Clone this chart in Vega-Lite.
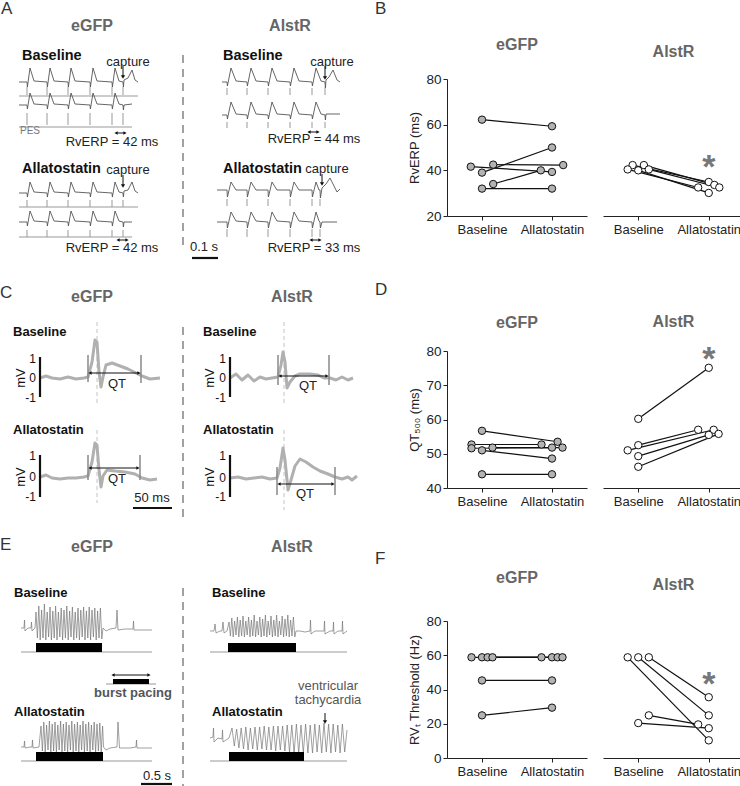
{
"$schema":"https://vega.github.io/schema/vega-lite/v6.json",
"padding":0,
"config":{"font":"Liberation Sans","view":{"stroke":null},"axis":{"labelFont":"Liberation Sans","titleFont":"Liberation Sans"}},
"datasets":{
"bE":[{"id":1,"x":1,"v":62.2},{"id":1,"x":2,"v":59.3},{"id":2,"x":0.84,"v":41.6},{"id":2,"x":2,"v":39.3},{"id":3,"x":1.16,"v":42.5},{"id":3,"x":2.16,"v":42.3},{"id":4,"x":1,"v":39},{"id":4,"x":2,"v":50},{"id":5,"x":1.16,"v":34},{"id":5,"x":1.84,"v":40},{"id":6,"x":1,"v":32},{"id":6,"x":2,"v":32}],
"bA":[{"id":7,"x":0.92,"v":42.3},{"id":7,"x":2,"v":34.9},{"id":8,"x":1.08,"v":42.3},{"id":8,"x":2.08,"v":33.6},{"id":9,"x":0.85,"v":40.4},{"id":9,"x":1.85,"v":32.5},{"id":10,"x":1,"v":40},{"id":10,"x":2,"v":30.1},{"id":11,"x":1.15,"v":40.4},{"id":11,"x":2.15,"v":32.5}],
"dE":[{"id":1,"x":1,"v":56.7},{"id":1,"x":2.08,"v":53.5},{"id":2,"x":0.85,"v":52.7},{"id":2,"x":1.85,"v":52.7},{"id":3,"x":0.85,"v":51.6},{"id":3,"x":2.15,"v":51.8},{"id":4,"x":1.15,"v":51.8},{"id":4,"x":2,"v":51.8},{"id":5,"x":1,"v":51},{"id":5,"x":2,"v":48.6},{"id":6,"x":1,"v":44},{"id":6,"x":2,"v":44}],
"dA":[{"id":7,"x":1,"v":60.2},{"id":7,"x":2,"v":75.1},{"id":8,"x":1,"v":52.5},{"id":8,"x":1.85,"v":57},{"id":9,"x":0.85,"v":51},{"id":9,"x":2.07,"v":57},{"id":10,"x":1,"v":49.3},{"id":10,"x":2,"v":55.5},{"id":11,"x":1,"v":46.2},{"id":11,"x":2.14,"v":55.8}],
"fE":[{"id":1,"x":0.85,"v":58.8},{"id":1,"x":1.85,"v":58.8},{"id":2,"x":1,"v":58.8},{"id":2,"x":2,"v":58.8},{"id":3,"x":1.08,"v":58.8},{"id":3,"x":2.08,"v":58.8},{"id":4,"x":1.15,"v":58.8},{"id":4,"x":2.15,"v":58.8},{"id":5,"x":1,"v":45.3},{"id":5,"x":2,"v":45.3},{"id":6,"x":1,"v":24.9},{"id":6,"x":2,"v":29.4}],
"fA":[{"id":7,"x":0.85,"v":58.8},{"id":7,"x":2,"v":10.3},{"id":8,"x":1,"v":58.8},{"id":8,"x":2,"v":24.9},{"id":9,"x":1.15,"v":58.8},{"id":9,"x":2,"v":35.5},{"id":10,"x":1.15,"v":24.9},{"id":10,"x":1.85,"v":19.6},{"id":11,"x":1,"v":20.4},{"id":11,"x":2,"v":17.4}],
"ta":[
{"id":"a1","x":19,"y":82},{"id":"a1","x":27,"y":82},{"id":"a1","x":27.4,"y":87},{"id":"a1","x":30,"y":68},{"id":"a1","x":34,"y":81},{"id":"a1","x":47,"y":82},{"id":"a1","x":47.4,"y":87},{"id":"a1","x":50,"y":68},{"id":"a1","x":54,"y":81},{"id":"a1","x":68,"y":82},{"id":"a1","x":68.4,"y":87},{"id":"a1","x":71,"y":68},{"id":"a1","x":75,"y":81},{"id":"a1","x":90,"y":82},{"id":"a1","x":90.4,"y":87},{"id":"a1","x":93,"y":68},{"id":"a1","x":97,"y":81},{"id":"a1","x":112,"y":82},{"id":"a1","x":112.4,"y":87},{"id":"a1","x":115,"y":68},{"id":"a1","x":119,"y":81},{"id":"a1","x":123,"y":82},{"id":"a1","x":123.4,"y":87},{"id":"a1","x":124,"y":80},{"id":"a1","x":128,"y":78},{"id":"a1","x":132,"y":70},{"id":"a1","x":135,"y":80},{"id":"a1","x":138,"y":82},
{"id":"a2","x":19,"y":105},{"id":"a2","x":27,"y":105},{"id":"a2","x":27.4,"y":109},{"id":"a2","x":30,"y":93},{"id":"a2","x":34,"y":104},{"id":"a2","x":47,"y":105},{"id":"a2","x":47.4,"y":109},{"id":"a2","x":50,"y":93},{"id":"a2","x":54,"y":104},{"id":"a2","x":68,"y":105},{"id":"a2","x":68.4,"y":109},{"id":"a2","x":71,"y":93},{"id":"a2","x":75,"y":104},{"id":"a2","x":90,"y":105},{"id":"a2","x":90.4,"y":109},{"id":"a2","x":93,"y":93},{"id":"a2","x":97,"y":104},{"id":"a2","x":112,"y":105},{"id":"a2","x":112.4,"y":109},{"id":"a2","x":115,"y":93},{"id":"a2","x":119,"y":104},{"id":"a2","x":123,"y":105},{"id":"a2","x":123.4,"y":110},{"id":"a2","x":124,"y":105},{"id":"a2","x":132,"y":104},
{"id":"a3","x":19,"y":193},{"id":"a3","x":27,"y":193},{"id":"a3","x":27.4,"y":197},{"id":"a3","x":30,"y":182},{"id":"a3","x":34,"y":192},{"id":"a3","x":47,"y":193},{"id":"a3","x":47.4,"y":197},{"id":"a3","x":50,"y":182},{"id":"a3","x":54,"y":192},{"id":"a3","x":68,"y":193},{"id":"a3","x":68.4,"y":197},{"id":"a3","x":71,"y":182},{"id":"a3","x":75,"y":192},{"id":"a3","x":90,"y":193},{"id":"a3","x":90.4,"y":197},{"id":"a3","x":93,"y":182},{"id":"a3","x":97,"y":192},{"id":"a3","x":112,"y":193},{"id":"a3","x":112.4,"y":197},{"id":"a3","x":115,"y":182},{"id":"a3","x":119,"y":192},{"id":"a3","x":123,"y":193},{"id":"a3","x":123.4,"y":197},{"id":"a3","x":124,"y":191},{"id":"a3","x":128,"y":190},{"id":"a3","x":132,"y":182},{"id":"a3","x":135,"y":191},{"id":"a3","x":138,"y":193},
{"id":"a4","x":19,"y":222},{"id":"a4","x":27,"y":222},{"id":"a4","x":27.4,"y":226},{"id":"a4","x":30,"y":211},{"id":"a4","x":34,"y":221},{"id":"a4","x":47,"y":222},{"id":"a4","x":47.4,"y":226},{"id":"a4","x":50,"y":211},{"id":"a4","x":54,"y":221},{"id":"a4","x":68,"y":222},{"id":"a4","x":68.4,"y":226},{"id":"a4","x":71,"y":211},{"id":"a4","x":75,"y":221},{"id":"a4","x":90,"y":222},{"id":"a4","x":90.4,"y":226},{"id":"a4","x":93,"y":211},{"id":"a4","x":97,"y":221},{"id":"a4","x":112,"y":222},{"id":"a4","x":112.4,"y":226},{"id":"a4","x":115,"y":211},{"id":"a4","x":119,"y":221},{"id":"a4","x":123,"y":222},{"id":"a4","x":123.4,"y":227},{"id":"a4","x":124,"y":222},{"id":"a4","x":132,"y":222},
{"id":"a5","x":222,"y":82},{"id":"a5","x":227,"y":82},{"id":"a5","x":227.4,"y":86},{"id":"a5","x":231,"y":68},{"id":"a5","x":236,"y":81},{"id":"a5","x":247,"y":82},{"id":"a5","x":247.4,"y":86},{"id":"a5","x":251,"y":68},{"id":"a5","x":256,"y":81},{"id":"a5","x":268,"y":82},{"id":"a5","x":268.4,"y":86},{"id":"a5","x":272,"y":68},{"id":"a5","x":277,"y":81},{"id":"a5","x":290,"y":82},{"id":"a5","x":290.4,"y":86},{"id":"a5","x":294,"y":68},{"id":"a5","x":299,"y":81},{"id":"a5","x":312,"y":82},{"id":"a5","x":312.4,"y":86},{"id":"a5","x":316,"y":68},{"id":"a5","x":321,"y":81},{"id":"a5","x":325,"y":82},{"id":"a5","x":325.4,"y":88},{"id":"a5","x":326,"y":80},{"id":"a5","x":329,"y":77},{"id":"a5","x":333,"y":70},{"id":"a5","x":337,"y":80},{"id":"a5","x":340,"y":82},
{"id":"a6","x":222,"y":115},{"id":"a6","x":227,"y":115},{"id":"a6","x":227.4,"y":119},{"id":"a6","x":231,"y":102},{"id":"a6","x":236,"y":114},{"id":"a6","x":247,"y":115},{"id":"a6","x":247.4,"y":119},{"id":"a6","x":251,"y":102},{"id":"a6","x":256,"y":114},{"id":"a6","x":268,"y":115},{"id":"a6","x":268.4,"y":119},{"id":"a6","x":272,"y":102},{"id":"a6","x":277,"y":114},{"id":"a6","x":290,"y":115},{"id":"a6","x":290.4,"y":119},{"id":"a6","x":294,"y":102},{"id":"a6","x":299,"y":114},{"id":"a6","x":312,"y":115},{"id":"a6","x":312.4,"y":119},{"id":"a6","x":316,"y":102},{"id":"a6","x":321,"y":114},{"id":"a6","x":325,"y":115},{"id":"a6","x":325.4,"y":120},{"id":"a6","x":326,"y":114},{"id":"a6","x":340,"y":114},
{"id":"a7","x":217,"y":190},{"id":"a7","x":227,"y":190},{"id":"a7","x":227.4,"y":197},{"id":"a7","x":231,"y":182},{"id":"a7","x":236,"y":190},{"id":"a7","x":247,"y":190},{"id":"a7","x":247.4,"y":197},{"id":"a7","x":251,"y":182},{"id":"a7","x":256,"y":190},{"id":"a7","x":268,"y":190},{"id":"a7","x":268.4,"y":197},{"id":"a7","x":272,"y":182},{"id":"a7","x":277,"y":190},{"id":"a7","x":290,"y":190},{"id":"a7","x":290.4,"y":197},{"id":"a7","x":294,"y":182},{"id":"a7","x":299,"y":190},{"id":"a7","x":312,"y":190},{"id":"a7","x":312.4,"y":197},{"id":"a7","x":316,"y":182},{"id":"a7","x":319,"y":190},{"id":"a7","x":320,"y":190},{"id":"a7","x":320.4,"y":198},{"id":"a7","x":322,"y":188},{"id":"a7","x":326,"y":184},{"id":"a7","x":330,"y":178},{"id":"a7","x":334,"y":186},{"id":"a7","x":337,"y":192},{"id":"a7","x":340,"y":189},
{"id":"a8","x":217,"y":222},{"id":"a8","x":227,"y":222},{"id":"a8","x":227.4,"y":228},{"id":"a8","x":231,"y":212},{"id":"a8","x":236,"y":221},{"id":"a8","x":247,"y":222},{"id":"a8","x":247.4,"y":228},{"id":"a8","x":251,"y":212},{"id":"a8","x":256,"y":221},{"id":"a8","x":268,"y":222},{"id":"a8","x":268.4,"y":228},{"id":"a8","x":272,"y":212},{"id":"a8","x":277,"y":221},{"id":"a8","x":290,"y":222},{"id":"a8","x":290.4,"y":228},{"id":"a8","x":294,"y":212},{"id":"a8","x":299,"y":221},{"id":"a8","x":312,"y":222},{"id":"a8","x":312.4,"y":228},{"id":"a8","x":316,"y":212},{"id":"a8","x":319,"y":221},{"id":"a8","x":320,"y":222},{"id":"a8","x":320.4,"y":228},{"id":"a8","x":322,"y":222},{"id":"a8","x":337,"y":222}
],
"tc":[
{"id":"c1","x":40,"y":378},{"id":"c1","x":46,"y":376},{"id":"c1","x":52,"y":378},{"id":"c1","x":60,"y":379},{"id":"c1","x":68,"y":377},{"id":"c1","x":76,"y":379},{"id":"c1","x":84,"y":378},{"id":"c1","x":88,"y":377},{"id":"c1","x":92,"y":362},{"id":"c1","x":95,"y":340},{"id":"c1","x":97,"y":342},{"id":"c1","x":99,"y":372},{"id":"c1","x":101,"y":387},{"id":"c1","x":103,"y":377},{"id":"c1","x":106,"y":365},{"id":"c1","x":112,"y":363},{"id":"c1","x":120,"y":366},{"id":"c1","x":128,"y":369},{"id":"c1","x":136,"y":373},{"id":"c1","x":142,"y":376},{"id":"c1","x":150,"y":379},{"id":"c1","x":160,"y":378},
{"id":"c2","x":40,"y":477},{"id":"c2","x":46,"y":475},{"id":"c2","x":52,"y":478},{"id":"c2","x":60,"y":479},{"id":"c2","x":68,"y":478},{"id":"c2","x":76,"y":478},{"id":"c2","x":84,"y":477},{"id":"c2","x":88,"y":476},{"id":"c2","x":92,"y":462},{"id":"c2","x":95,"y":443},{"id":"c2","x":97,"y":445},{"id":"c2","x":99,"y":470},{"id":"c2","x":101,"y":487},{"id":"c2","x":103,"y":476},{"id":"c2","x":107,"y":470},{"id":"c2","x":115,"y":471},{"id":"c2","x":125,"y":472},{"id":"c2","x":135,"y":474},{"id":"c2","x":142,"y":478},{"id":"c2","x":150,"y":480},{"id":"c2","x":157,"y":479},
{"id":"c3","x":230,"y":378},{"id":"c3","x":236,"y":374},{"id":"c3","x":242,"y":380},{"id":"c3","x":248,"y":375},{"id":"c3","x":254,"y":381},{"id":"c3","x":260,"y":377},{"id":"c3","x":266,"y":379},{"id":"c3","x":272,"y":378},{"id":"c3","x":278,"y":377},{"id":"c3","x":281,"y":365},{"id":"c3","x":283,"y":352},{"id":"c3","x":285,"y":362},{"id":"c3","x":287,"y":388},{"id":"c3","x":290,"y":382},{"id":"c3","x":295,"y":376},{"id":"c3","x":300,"y":374},{"id":"c3","x":310,"y":374},{"id":"c3","x":318,"y":375},{"id":"c3","x":324,"y":378},{"id":"c3","x":330,"y":378},{"id":"c3","x":336,"y":380},{"id":"c3","x":342,"y":377},{"id":"c3","x":348,"y":380},{"id":"c3","x":353,"y":378},
{"id":"c4","x":230,"y":478},{"id":"c4","x":238,"y":477},{"id":"c4","x":246,"y":479},{"id":"c4","x":254,"y":478},{"id":"c4","x":262,"y":477},{"id":"c4","x":270,"y":479},{"id":"c4","x":277,"y":478},{"id":"c4","x":280,"y":468},{"id":"c4","x":283,"y":448},{"id":"c4","x":285,"y":460},{"id":"c4","x":288,"y":490},{"id":"c4","x":291,"y":480},{"id":"c4","x":295,"y":466},{"id":"c4","x":300,"y":459},{"id":"c4","x":306,"y":462},{"id":"c4","x":313,"y":467},{"id":"c4","x":320,"y":471},{"id":"c4","x":328,"y":474},{"id":"c4","x":335,"y":477},{"id":"c4","x":342,"y":479},{"id":"c4","x":348,"y":477},{"id":"c4","x":352,"y":480},{"id":"c4","x":357,"y":476}
],
"te":[
{"id":"e1","x":21,"y":628},{"id":"e1","x":24,"y":628},{"id":"e1","x":24.5,"y":620},{"id":"e1","x":25,"y":631},{"id":"e1","x":28,"y":628},{"id":"e1","x":31,"y":628},{"id":"e1","x":31.5,"y":622},{"id":"e1","x":32,"y":631},{"id":"e1","x":35,"y":628},
{"id":"e1","x":36,"y":612},{"id":"e1","x":37.4,"y":638},{"id":"e1","x":38.8,"y":606},{"id":"e1","x":40.2,"y":640},{"id":"e1","x":41.6,"y":610},{"id":"e1","x":43,"y":638},{"id":"e1","x":44.4,"y":604},{"id":"e1","x":45.8,"y":640},{"id":"e1","x":47.2,"y":612},{"id":"e1","x":48.6,"y":637},{"id":"e1","x":50,"y":607},{"id":"e1","x":51.4,"y":640},{"id":"e1","x":52.8,"y":611},{"id":"e1","x":54.2,"y":638},{"id":"e1","x":55.6,"y":606},{"id":"e1","x":57,"y":640},{"id":"e1","x":58.4,"y":612},{"id":"e1","x":59.8,"y":637},{"id":"e1","x":61.2,"y":608},{"id":"e1","x":62.6,"y":640},{"id":"e1","x":64,"y":610},{"id":"e1","x":65.4,"y":638},{"id":"e1","x":66.8,"y":606},{"id":"e1","x":68.2,"y":640},{"id":"e1","x":69.6,"y":611},{"id":"e1","x":71,"y":637},{"id":"e1","x":72.4,"y":607},{"id":"e1","x":73.8,"y":640},{"id":"e1","x":75.2,"y":612},{"id":"e1","x":76.6,"y":638},{"id":"e1","x":78,"y":608},{"id":"e1","x":79.4,"y":640},{"id":"e1","x":80.8,"y":610},{"id":"e1","x":82.2,"y":637},{"id":"e1","x":83.6,"y":607},{"id":"e1","x":85,"y":640},{"id":"e1","x":86.4,"y":611},{"id":"e1","x":87.8,"y":638},{"id":"e1","x":89.2,"y":607},{"id":"e1","x":90.6,"y":640},{"id":"e1","x":92,"y":610},{"id":"e1","x":93.4,"y":637},{"id":"e1","x":94.8,"y":608},{"id":"e1","x":96.2,"y":640},{"id":"e1","x":97.6,"y":611},{"id":"e1","x":99,"y":638},{"id":"e1","x":100.4,"y":608},{"id":"e1","x":101.8,"y":639},
{"id":"e1","x":103,"y":628},{"id":"e1","x":106,"y":631},{"id":"e1","x":110,"y":629},{"id":"e1","x":116,"y":628},{"id":"e1","x":117,"y":610},{"id":"e1","x":118,"y":630},{"id":"e1","x":125,"y":629},{"id":"e1","x":133,"y":629},{"id":"e1","x":133.5,"y":621},{"id":"e1","x":134,"y":630},{"id":"e1","x":152,"y":630},
{"id":"e2","x":21,"y":747},{"id":"e2","x":24,"y":747},{"id":"e2","x":24.5,"y":741},{"id":"e2","x":25,"y":748},{"id":"e2","x":30,"y":747},{"id":"e2","x":32,"y":747},{"id":"e2","x":32.5,"y":740},{"id":"e2","x":33,"y":748},{"id":"e2","x":39,"y":747},
{"id":"e2","x":41,"y":726},{"id":"e2","x":42.4,"y":751},{"id":"e2","x":43.8,"y":722},{"id":"e2","x":45.2,"y":752},{"id":"e2","x":46.6,"y":725},{"id":"e2","x":48,"y":750},{"id":"e2","x":49.4,"y":721},{"id":"e2","x":50.8,"y":752},{"id":"e2","x":52.2,"y":724},{"id":"e2","x":53.6,"y":751},{"id":"e2","x":55,"y":722},{"id":"e2","x":56.4,"y":752},{"id":"e2","x":57.8,"y":725},{"id":"e2","x":59.2,"y":750},{"id":"e2","x":60.6,"y":721},{"id":"e2","x":62,"y":752},{"id":"e2","x":63.4,"y":724},{"id":"e2","x":64.8,"y":751},{"id":"e2","x":66.2,"y":722},{"id":"e2","x":67.6,"y":752},{"id":"e2","x":69,"y":725},{"id":"e2","x":70.4,"y":750},{"id":"e2","x":71.8,"y":721},{"id":"e2","x":73.2,"y":752},{"id":"e2","x":74.6,"y":724},{"id":"e2","x":76,"y":751},{"id":"e2","x":77.4,"y":722},{"id":"e2","x":78.8,"y":752},{"id":"e2","x":80.2,"y":725},{"id":"e2","x":81.6,"y":750},{"id":"e2","x":83,"y":721},{"id":"e2","x":84.4,"y":752},{"id":"e2","x":85.8,"y":724},{"id":"e2","x":87.2,"y":751},{"id":"e2","x":88.6,"y":722},{"id":"e2","x":90,"y":752},{"id":"e2","x":91.4,"y":725},{"id":"e2","x":92.8,"y":750},{"id":"e2","x":94.2,"y":722},{"id":"e2","x":95.6,"y":752},{"id":"e2","x":97,"y":724},{"id":"e2","x":98.4,"y":751},{"id":"e2","x":99.8,"y":723},{"id":"e2","x":101.2,"y":752},{"id":"e2","x":102.6,"y":726},
{"id":"e2","x":103.5,"y":747},{"id":"e2","x":106,"y":750},{"id":"e2","x":110,"y":748},{"id":"e2","x":117,"y":747},{"id":"e2","x":118,"y":722},{"id":"e2","x":119.5,"y":748},{"id":"e2","x":130,"y":748},{"id":"e2","x":136,"y":747},{"id":"e2","x":136.5,"y":740},{"id":"e2","x":137,"y":748},{"id":"e2","x":152,"y":748},
{"id":"e3","x":210,"y":631},{"id":"e3","x":214,"y":631},{"id":"e3","x":215,"y":624},{"id":"e3","x":216,"y":633},{"id":"e3","x":220,"y":631},{"id":"e3","x":222,"y":631},{"id":"e3","x":223,"y":622},{"id":"e3","x":224,"y":633},{"id":"e3","x":227,"y":631},
{"id":"e3","x":229,"y":622},{"id":"e3","x":230.4,"y":636},{"id":"e3","x":231.8,"y":618},{"id":"e3","x":233.2,"y":637},{"id":"e3","x":234.6,"y":621},{"id":"e3","x":236,"y":635},{"id":"e3","x":237.4,"y":617},{"id":"e3","x":238.8,"y":637},{"id":"e3","x":240.2,"y":620},{"id":"e3","x":241.6,"y":636},{"id":"e3","x":243,"y":616},{"id":"e3","x":244.4,"y":637},{"id":"e3","x":245.8,"y":621},{"id":"e3","x":247.2,"y":635},{"id":"e3","x":248.6,"y":617},{"id":"e3","x":250,"y":637},{"id":"e3","x":251.4,"y":620},{"id":"e3","x":252.8,"y":636},{"id":"e3","x":254.2,"y":615},{"id":"e3","x":255.6,"y":637},{"id":"e3","x":257,"y":621},{"id":"e3","x":258.4,"y":635},{"id":"e3","x":259.8,"y":617},{"id":"e3","x":261.2,"y":637},{"id":"e3","x":262.6,"y":619},{"id":"e3","x":264,"y":636},{"id":"e3","x":265.4,"y":615},{"id":"e3","x":266.8,"y":637},{"id":"e3","x":268.2,"y":621},{"id":"e3","x":269.6,"y":635},{"id":"e3","x":271,"y":616},{"id":"e3","x":272.4,"y":637},{"id":"e3","x":273.8,"y":620},{"id":"e3","x":275.2,"y":636},{"id":"e3","x":276.6,"y":615},{"id":"e3","x":278,"y":637},{"id":"e3","x":279.4,"y":621},{"id":"e3","x":280.8,"y":635},{"id":"e3","x":282.2,"y":616},{"id":"e3","x":283.6,"y":637},{"id":"e3","x":285,"y":619},{"id":"e3","x":286.4,"y":636},{"id":"e3","x":287.8,"y":615},{"id":"e3","x":289.2,"y":637},{"id":"e3","x":290.6,"y":620},{"id":"e3","x":292,"y":636},{"id":"e3","x":293.4,"y":617},{"id":"e3","x":294.8,"y":637},
{"id":"e3","x":296,"y":631},{"id":"e3","x":300,"y":631},{"id":"e3","x":305,"y":632},{"id":"e3","x":310,"y":631},{"id":"e3","x":310.5,"y":620},{"id":"e3","x":311,"y":634},{"id":"e3","x":315,"y":631},{"id":"e3","x":324,"y":631},{"id":"e3","x":324.5,"y":621},{"id":"e3","x":325,"y":634},{"id":"e3","x":330,"y":631},{"id":"e3","x":333,"y":631},{"id":"e3","x":333.5,"y":622},{"id":"e3","x":334,"y":634},{"id":"e3","x":338,"y":631},{"id":"e3","x":342,"y":631},{"id":"e3","x":342.5,"y":621},{"id":"e3","x":343,"y":634},{"id":"e3","x":347,"y":631},
{"id":"e4","x":210,"y":738},{"id":"e4","x":213,"y":737},{"id":"e4","x":213.5,"y":728},{"id":"e4","x":214,"y":742},{"id":"e4","x":218,"y":738},{"id":"e4","x":222,"y":739},{"id":"e4","x":222.5,"y":730},{"id":"e4","x":223,"y":742},{"id":"e4","x":229,"y":738},
{"id":"e4","x":232,"y":728},{"id":"e4","x":234.3,"y":746},{"id":"e4","x":236.6,"y":729},{"id":"e4","x":238.9,"y":748},{"id":"e4","x":241.2,"y":728},{"id":"e4","x":243.5,"y":749},{"id":"e4","x":245.8,"y":727},{"id":"e4","x":248.1,"y":750},{"id":"e4","x":250.4,"y":728},{"id":"e4","x":252.7,"y":749},{"id":"e4","x":255,"y":727},{"id":"e4","x":257.3,"y":750},{"id":"e4","x":259.6,"y":727},{"id":"e4","x":261.9,"y":749},{"id":"e4","x":264.2,"y":726},{"id":"e4","x":266.5,"y":750},{"id":"e4","x":268.8,"y":727},{"id":"e4","x":271.1,"y":750},{"id":"e4","x":273.4,"y":726},{"id":"e4","x":275.7,"y":751},{"id":"e4","x":278,"y":726},{"id":"e4","x":280.3,"y":750},{"id":"e4","x":282.6,"y":726},{"id":"e4","x":284.9,"y":751},{"id":"e4","x":287.2,"y":725},{"id":"e4","x":289.5,"y":752},{"id":"e4","x":291.8,"y":725},{"id":"e4","x":294.1,"y":753},{"id":"e4","x":296.4,"y":724},{"id":"e4","x":298.7,"y":753},{"id":"e4","x":301,"y":725},{"id":"e4","x":303.3,"y":753},{"id":"e4","x":305.6,"y":724},{"id":"e4","x":307.9,"y":753},{"id":"e4","x":310.2,"y":725},{"id":"e4","x":312.5,"y":753},{"id":"e4","x":314.8,"y":724},{"id":"e4","x":317.1,"y":752},{"id":"e4","x":319.4,"y":725},{"id":"e4","x":321.7,"y":753},{"id":"e4","x":324,"y":723},{"id":"e4","x":326.3,"y":752},{"id":"e4","x":328.6,"y":724},{"id":"e4","x":330.9,"y":753},{"id":"e4","x":333.2,"y":724},{"id":"e4","x":335.5,"y":752},{"id":"e4","x":337.8,"y":725},{"id":"e4","x":340.1,"y":753},{"id":"e4","x":342.4,"y":724},{"id":"e4","x":344.7,"y":752},{"id":"e4","x":347,"y":730}
],
"tk":[
{"x":27,"y":87,"y2":95},{"x":47,"y":87,"y2":95},{"x":68,"y":87,"y2":95},{"x":90,"y":87,"y2":95},{"x":112,"y":87,"y2":95},{"x":123,"y":87,"y2":95},
{"x":27,"y":113,"y2":125},{"x":47,"y":113,"y2":125},{"x":68,"y":113,"y2":125},{"x":90,"y":113,"y2":125},{"x":112,"y":113,"y2":125},{"x":123,"y":113,"y2":125},
{"x":27,"y":200,"y2":207},{"x":47,"y":200,"y2":207},{"x":68,"y":200,"y2":207},{"x":90,"y":200,"y2":207},{"x":112,"y":200,"y2":207},{"x":123,"y":200,"y2":207},
{"x":27,"y":230,"y2":237},{"x":47,"y":230,"y2":237},{"x":68,"y":230,"y2":237},{"x":90,"y":230,"y2":237},{"x":112,"y":230,"y2":237},{"x":123,"y":230,"y2":237},
{"x":227,"y":88,"y2":95},{"x":247,"y":88,"y2":95},{"x":268,"y":88,"y2":95},{"x":290,"y":88,"y2":95},{"x":312,"y":88,"y2":95},{"x":325,"y":88,"y2":95},
{"x":227,"y":122,"y2":128},{"x":247,"y":122,"y2":128},{"x":268,"y":122,"y2":128},{"x":290,"y":122,"y2":128},{"x":312,"y":122,"y2":128},{"x":325,"y":122,"y2":128},
{"x":227,"y":199,"y2":206},{"x":247,"y":199,"y2":206},{"x":268,"y":199,"y2":206},{"x":290,"y":199,"y2":206},{"x":312,"y":199,"y2":206},{"x":320,"y":199,"y2":206},
{"x":227,"y":229,"y2":237},{"x":247,"y":229,"y2":237},{"x":268,"y":229,"y2":237},{"x":290,"y":229,"y2":237},{"x":312,"y":229,"y2":237},{"x":320,"y":229,"y2":237}
],
"hl":[{"x":19,"x2":138,"y":96},{"x":19,"x2":132,"y":127},{"x":19,"x2":138,"y":207},{"x":19,"x2":132,"y":237},{"x":21,"x2":152,"y":652},{"x":21,"x2":152,"y":761},{"x":210,"x2":347,"y":652},{"x":210,"x2":347,"y":761},{"x":106,"x2":156,"y":684}],
"blk":[{"x":40,"y":357,"x2":40,"y2":397},{"x":40,"y":455,"x2":40,"y2":497},{"x":230,"y":357,"x2":230,"y2":397},{"x":230,"y":455,"x2":230,"y2":497},{"x":192,"y":258,"x2":218,"y2":258},{"x":133,"y":508,"x2":172,"y2":508},{"x":141,"y":784,"x2":172,"y2":784}],
"qtm":[{"x":88,"y":355,"y2":382},{"x":141,"y":355,"y2":383},{"x":88,"y":455,"y2":480},{"x":140,"y":455,"y2":480},{"x":278,"y":355,"y2":385},{"x":329,"y":355,"y2":385},{"x":277,"y":467,"y2":495},{"x":335,"y":467,"y2":495}],
"dl":[{"x":97,"y":322,"y2":403},{"x":97,"y":430,"y2":503},{"x":284,"y":322,"y2":403},{"x":284,"y":430,"y2":510}],
"dv":[{"x":183,"y":55,"y2":247},{"x":183,"y":327,"y2":520},{"x":183,"y":588,"y2":786}],
"arr":[{"x":90,"x2":139,"y":373},{"x":90,"x2":138,"y":468},{"x":280,"x2":327,"y":376},{"x":279,"x2":333,"y":484},{"x":113,"x2":149,"y":675},{"x":116,"x2":125,"y":133},{"x":118,"x2":127,"y":240},{"x":309,"x2":318,"y":132},{"x":311,"x2":320,"y":240}],
"dn":[{"x":123,"y":66,"y2":77},{"x":123,"y":175,"y2":186},{"x":325,"y":66,"y2":78},{"x":322,"y":174,"y2":184},{"x":325,"y":713,"y2":722}],
"bar":[{"x":36,"x2":102,"y":643,"y2":652},{"x":36,"x2":103,"y":752,"y2":761},{"x":228,"x2":296,"y":643,"y2":652},{"x":229,"x2":304,"y":752,"y2":761},{"x":113,"x2":149,"y":679,"y2":684}],
"let":[{"t":"A","x":1,"y":9},{"t":"C","x":0,"y":293},{"t":"E","x":0,"y":545}],
"ttl":[{"t":"eGFP","x":92,"y":26},{"t":"AlstR","x":290,"y":26},{"t":"eGFP","x":92,"y":297},{"t":"AlstR","x":292,"y":297},{"t":"eGFP","x":92,"y":547},{"t":"AlstR","x":292,"y":547}],
"cndA":[{"t":"Baseline","x":22,"y":56},{"t":"Allatostatin","x":22,"y":169},{"t":"Baseline","x":223,"y":56},{"t":"Allatostatin","x":223,"y":169}],
"cndB":[{"t":"Baseline","x":13,"y":332},{"t":"Allatostatin","x":13,"y":430},{"t":"Baseline","x":203,"y":332},{"t":"Allatostatin","x":203,"y":430},{"t":"Baseline","x":14,"y":593},{"t":"Allatostatin","x":14,"y":712},{"t":"Baseline","x":212,"y":593},{"t":"Allatostatin","x":212,"y":712}],
"note":[{"t":"capture","x":128,"y":62},{"t":"capture","x":128,"y":170},{"t":"capture","x":332,"y":62},{"t":"capture","x":327,"y":169},{"t":"QT","x":117,"y":384},{"t":"QT","x":117,"y":479},{"t":"QT","x":308,"y":386},{"t":"QT","x":305,"y":494},{"t":"50 ms","x":152,"y":498},{"t":"0.1 s","x":204,"y":247},{"t":"0.5 s","x":157,"y":776},{"t":"RvERP = 42 ms","x":112,"y":142},{"t":"RvERP = 42 ms","x":112,"y":248},{"t":"RvERP = 44 ms","x":314,"y":139},{"t":"RvERP = 33 ms","x":314,"y":248}],
"noteg":[{"t":"ventricular","x":328,"y":686},{"t":"tachycardia","x":328,"y":700}],
"bp":[{"t":"burst pacing","x":133,"y":693}],
"pes":[{"t":"PES","x":20,"y":131}],
"mvn":[{"t":"1","x":36,"y":359},{"t":"0","x":36,"y":378},{"t":"-1","x":36,"y":398},{"t":"1","x":36,"y":456},{"t":"0","x":36,"y":477},{"t":"-1","x":36,"y":497},{"t":"1","x":226,"y":359},{"t":"0","x":226,"y":378},{"t":"-1","x":226,"y":398},{"t":"1","x":226,"y":456},{"t":"0","x":226,"y":478},{"t":"-1","x":226,"y":497}],
"mvl":[{"t":"mV","x":21,"y":378},{"t":"mV","x":21,"y":477},{"t":"mV","x":210,"y":378},{"t":"mV","x":210,"y":477}],
"starB":[{"x":2,"v":44,"s":"*"}],
"starD":[{"x":2,"v":79.5,"s":"*"}],
"starF":[{"x":2,"v":47,"s":"*"}]
},
"spacing":6,
"hconcat":[
{
"width":368,"height":707,
"encoding":{
"x":{"field":"x","type":"quantitative","scale":{"domain":[0,368],"nice":false,"zero":false},"axis":null},
"y":{"field":"y","type":"quantitative","scale":{"domain":[79,786],"nice":false,"zero":false,"reverse":true},"axis":null}
},
"layer":[
{"data":{"name":"hl"},"mark":{"type":"rule","color":"#999","strokeWidth":1},"encoding":{"x2":{"field":"x2"}}},
{"data":{"name":"tk"},"mark":{"type":"rule","color":"#999","strokeWidth":1},"encoding":{"y2":{"field":"y2"}}},
{"data":{"name":"dl"},"mark":{"type":"rule","color":"#c4c4c4","strokeWidth":1,"strokeDash":[4,3]},"encoding":{"y2":{"field":"y2"}}},
{"data":{"name":"dv"},"mark":{"type":"rule","color":"#444","strokeWidth":1,"strokeDash":[8,6]},"encoding":{"y2":{"field":"y2"}}},
{"data":{"name":"ta"},"mark":{"type":"line","color":"#555","strokeWidth":0.9},"encoding":{"detail":{"field":"id"}}},
{"data":{"name":"tc"},"mark":{"type":"line","color":"#b0b0b0","strokeWidth":3,"strokeJoin":"round"},"encoding":{"detail":{"field":"id"}}},
{"data":{"name":"te"},"mark":{"type":"line","color":"#777","strokeWidth":0.7},"encoding":{"detail":{"field":"id"}}},
{"data":{"name":"qtm"},"mark":{"type":"rule","color":"#888","strokeWidth":1.5},"encoding":{"y2":{"field":"y2"}}},
{"data":{"name":"blk"},"mark":{"type":"rule","color":"#111","strokeWidth":2.2},"encoding":{"x2":{"field":"x2"},"y2":{"field":"y2"}}},
{"data":{"name":"bar"},"mark":{"type":"rect","color":"#000"},"encoding":{"x2":{"field":"x2"},"y2":{"field":"y2"}}},
{"data":{"name":"arr"},"mark":{"type":"rule","color":"#111","strokeWidth":1},"encoding":{"x2":{"field":"x2"}}},
{"data":{"name":"arr"},"mark":{"type":"point","shape":"triangle-left","filled":true,"color":"#111","size":14,"opacity":1}},
{"data":{"name":"arr"},"mark":{"type":"point","shape":"triangle-right","filled":true,"color":"#111","size":14,"opacity":1},"encoding":{"x":{"field":"x2","type":"quantitative"}}},
{"data":{"name":"dn"},"mark":{"type":"rule","color":"#111","strokeWidth":1},"encoding":{"y2":{"field":"y2"}}},
{"data":{"name":"dn"},"mark":{"type":"point","shape":"triangle-down","filled":true,"color":"#111","size":18,"opacity":1},"encoding":{"y":{"field":"y2","type":"quantitative"}}},
{"data":{"name":"let"},"mark":{"type":"text","align":"left","baseline":"middle","fontSize":17,"color":"#333"},"encoding":{"text":{"field":"t"}}},
{"data":{"name":"ttl"},"mark":{"type":"text","align":"center","baseline":"middle","fontSize":16,"fontWeight":"bold","color":"#666"},"encoding":{"text":{"field":"t"}}},
{"data":{"name":"cndA"},"mark":{"type":"text","align":"left","baseline":"middle","fontSize":14.5,"fontWeight":"bold","color":"#111"},"encoding":{"text":{"field":"t"}}},
{"data":{"name":"cndB"},"mark":{"type":"text","align":"left","baseline":"middle","fontSize":13,"fontWeight":"bold","color":"#111"},"encoding":{"text":{"field":"t"}}},
{"data":{"name":"note"},"mark":{"type":"text","align":"center","baseline":"middle","fontSize":13,"color":"#222"},"encoding":{"text":{"field":"t"}}},
{"data":{"name":"noteg"},"mark":{"type":"text","align":"center","baseline":"middle","fontSize":13,"color":"#555"},"encoding":{"text":{"field":"t"}}},
{"data":{"name":"bp"},"mark":{"type":"text","align":"center","baseline":"middle","fontSize":13,"fontWeight":"bold","color":"#555"},"encoding":{"text":{"field":"t"}}},
{"data":{"name":"pes"},"mark":{"type":"text","align":"left","baseline":"middle","fontSize":10,"color":"#777"},"encoding":{"text":{"field":"t"}}},
{"data":{"name":"mvn"},"mark":{"type":"text","align":"right","baseline":"middle","fontSize":12,"color":"#111"},"encoding":{"text":{"field":"t"}}},
{"data":{"name":"mvl"},"mark":{"type":"text","align":"center","baseline":"middle","fontSize":13,"angle":270,"color":"#111"},"encoding":{"text":{"field":"t"}}}
]
},
{
"spacing":44,
"vconcat":[
{
"title":{"text":"B","anchor":"start","fontSize":17,"fontWeight":"normal","color":"#333","offset":19,"dx":-34},
"spacing":16,
"hconcat":[
{"width":140,"height":137,"title":{"text":"eGFP","fontSize":16,"fontWeight":"bold","color":"#666","offset":19,"frame":"group"},
"data":{"name":"bE"},
"encoding":{"x":{"field":"x","type":"quantitative","scale":{"domain":[0.5,2.5],"nice":false,"zero":false},"axis":{"values":[1,2],"labelExpr":"datum.value==1?'Baseline':'Allatostatin'","title":null,"grid":false,"domainColor":"#222","tickColor":"#222","tickSize":4,"labelFontSize":13,"labelColor":"#222","labelPadding":3}},
"y":{"field":"v","type":"quantitative","scale":{"domain":[20,80],"nice":false,"zero":false},"axis":{"values":[20,40,60,80],"title":"RvERP (ms)","grid":false,"domainColor":"#222","tickColor":"#222","tickSize":4,"labelFontSize":13.5,"labelColor":"#222","titleFontSize":13,"titleFontWeight":"normal","titleColor":"#222","titlePadding":4}}},
"layer":[
{"mark":{"type":"line","color":"#111","strokeWidth":1.2},"encoding":{"detail":{"field":"id"}}},
{"mark":{"type":"point","filled":true,"fill":"#b3b3b3","stroke":"#111","strokeWidth":1,"size":55,"opacity":1}}
]},
{"width":141,"height":137,"title":{"text":"AlstR","fontSize":16,"fontWeight":"bold","color":"#666","offset":19,"frame":"group"},
"encoding":{"x":{"field":"x","type":"quantitative","scale":{"domain":[0.5,2.5],"nice":false,"zero":false},"axis":{"values":[1,2],"labelExpr":"datum.value==1?'Baseline':'Allatostatin'","title":null,"grid":false,"domainColor":"#222","tickColor":"#222","tickSize":4,"labelFontSize":13,"labelColor":"#222","labelPadding":3}},
"y":{"field":"v","type":"quantitative","scale":{"domain":[20,80],"nice":false,"zero":false},"axis":null}},
"layer":[
{"data":{"name":"bA"},"mark":{"type":"line","color":"#111","strokeWidth":1.2},"encoding":{"detail":{"field":"id"}}},
{"data":{"name":"bA"},"mark":{"type":"point","filled":true,"fill":"white","stroke":"#111","strokeWidth":1,"size":55,"opacity":1}},
{"data":{"name":"starB"},"mark":{"type":"text","fontSize":34,"fontWeight":"bold","color":"#777","baseline":"middle","align":"center","dy":7},"encoding":{"text":{"field":"s","type":"nominal"}}}
]}
]
},
{
"spacing":42,
"vconcat":[
{
"title":{"text":"D","anchor":"start","fontSize":17,"fontWeight":"normal","color":"#333","offset":15,"dx":-34},
"spacing":16,
"hconcat":[
{"width":140,"height":137,"title":{"text":"eGFP","fontSize":16,"fontWeight":"bold","color":"#666","offset":13,"frame":"group"},
"data":{"name":"dE"},
"encoding":{"x":{"field":"x","type":"quantitative","scale":{"domain":[0.5,2.5],"nice":false,"zero":false},"axis":{"values":[1,2],"labelExpr":"datum.value==1?'Baseline':'Allatostatin'","title":null,"grid":false,"domainColor":"#222","tickColor":"#222","tickSize":4,"labelFontSize":13,"labelColor":"#222","labelPadding":3}},
"y":{"field":"v","type":"quantitative","scale":{"domain":[40,80],"nice":false,"zero":false},"axis":{"values":[40,50,60,70,80],"title":"QT₅₀₀ (ms)","grid":false,"domainColor":"#222","tickColor":"#222","tickSize":4,"labelFontSize":13.5,"labelColor":"#222","titleFontSize":13,"titleFontWeight":"normal","titleColor":"#222","titlePadding":4}}},
"layer":[
{"mark":{"type":"line","color":"#111","strokeWidth":1.2},"encoding":{"detail":{"field":"id"}}},
{"mark":{"type":"point","filled":true,"fill":"#b3b3b3","stroke":"#111","strokeWidth":1,"size":55,"opacity":1}}
]},
{"width":141,"height":137,"title":{"text":"AlstR","fontSize":16,"fontWeight":"bold","color":"#666","offset":13,"frame":"group"},
"encoding":{"x":{"field":"x","type":"quantitative","scale":{"domain":[0.5,2.5],"nice":false,"zero":false},"axis":{"values":[1,2],"labelExpr":"datum.value==1?'Baseline':'Allatostatin'","title":null,"grid":false,"domainColor":"#222","tickColor":"#222","tickSize":4,"labelFontSize":13,"labelColor":"#222","labelPadding":3}},
"y":{"field":"v","type":"quantitative","scale":{"domain":[40,80],"nice":false,"zero":false},"axis":null}},
"layer":[
{"data":{"name":"dA"},"mark":{"type":"line","color":"#111","strokeWidth":1.2},"encoding":{"detail":{"field":"id"}}},
{"data":{"name":"dA"},"mark":{"type":"point","filled":true,"fill":"white","stroke":"#111","strokeWidth":1,"size":55,"opacity":1}},
{"data":{"name":"starD"},"mark":{"type":"text","fontSize":34,"fontWeight":"bold","color":"#777","baseline":"middle","align":"center","dy":7},"encoding":{"text":{"field":"s","type":"nominal"}}}
]}
]
},
{
"title":{"text":"F","anchor":"start","fontSize":17,"fontWeight":"normal","color":"#333","offset":2,"dx":-34},
"spacing":16,
"hconcat":[
{"width":140,"height":137,"title":{"text":"eGFP","fontSize":16,"fontWeight":"bold","color":"#666","offset":28,"frame":"group"},
"data":{"name":"fE"},
"encoding":{"x":{"field":"x","type":"quantitative","scale":{"domain":[0.5,2.5],"nice":false,"zero":false},"axis":{"values":[1,2],"labelExpr":"datum.value==1?'Baseline':'Allatostatin'","title":null,"grid":false,"domainColor":"#222","tickColor":"#222","tickSize":4,"labelFontSize":13,"labelColor":"#222","labelPadding":3}},
"y":{"field":"v","type":"quantitative","scale":{"domain":[0,80],"nice":false,"zero":false},"axis":{"values":[0,20,40,60,80],"title":"RVₜ Threshold (Hz)","grid":false,"domainColor":"#222","tickColor":"#222","tickSize":4,"labelFontSize":13.5,"labelColor":"#222","titleFontSize":13,"titleFontWeight":"normal","titleColor":"#222","titlePadding":4}}},
"layer":[
{"mark":{"type":"line","color":"#111","strokeWidth":1.2},"encoding":{"detail":{"field":"id"}}},
{"mark":{"type":"point","filled":true,"fill":"#b3b3b3","stroke":"#111","strokeWidth":1,"size":55,"opacity":1}}
]},
{"width":141,"height":137,"title":{"text":"AlstR","fontSize":16,"fontWeight":"bold","color":"#666","offset":28,"frame":"group"},
"encoding":{"x":{"field":"x","type":"quantitative","scale":{"domain":[0.5,2.5],"nice":false,"zero":false},"axis":{"values":[1,2],"labelExpr":"datum.value==1?'Baseline':'Allatostatin'","title":null,"grid":false,"domainColor":"#222","tickColor":"#222","tickSize":4,"labelFontSize":13,"labelColor":"#222","labelPadding":3}},
"y":{"field":"v","type":"quantitative","scale":{"domain":[0,80],"nice":false,"zero":false},"axis":null}},
"layer":[
{"data":{"name":"fA"},"mark":{"type":"line","color":"#111","strokeWidth":1.2},"encoding":{"detail":{"field":"id"}}},
{"data":{"name":"fA"},"mark":{"type":"point","filled":true,"fill":"white","stroke":"#111","strokeWidth":1,"size":55,"opacity":1}},
{"data":{"name":"starF"},"mark":{"type":"text","fontSize":34,"fontWeight":"bold","color":"#777","baseline":"middle","align":"center","dy":7},"encoding":{"text":{"field":"s","type":"nominal"}}}
]}
]
}
]
}
]
}
]
}
